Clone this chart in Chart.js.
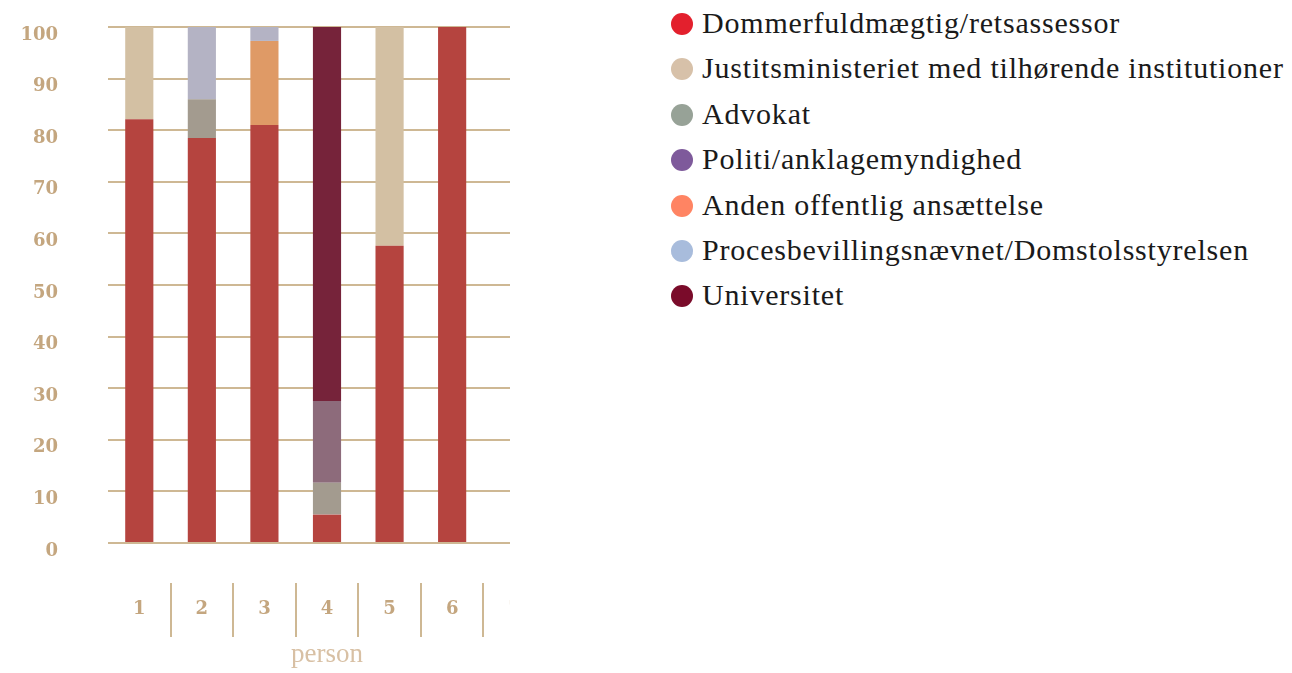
<!DOCTYPE html>
<html>
<head>
<meta charset="utf-8">
<script src="https://cdn.jsdelivr.net/npm/chart.js@4"></script>
<style>
  body { margin: 0; background: #fff; }
  #plot { position: absolute; left: 0; top: 0; width: 510px; height: 673px; overflow: hidden; }
  #legend { position: absolute; left: 671px; top: 0; margin: 0; padding: 0; list-style: none;
            font-family: 'Liberation Serif', serif; font-size: 30px; letter-spacing: 0.8px; color: #1a1a1a; }
  #legend li { height: 45.4px; line-height: 45.4px; white-space: nowrap; }
  #legend span { display: inline-block; width: 22px; height: 22px; border-radius: 50%;
                 margin-right: 9px; vertical-align: -2px; }
</style>
</head>
<body>
<div id="plot"><canvas id="chart" width="546" height="673"></canvas></div>
<ul id="legend"></ul>
<script>
// kategorier (7. kolonne er skåret af i billedet)
const persons = ['1', '2', '3', '4', '5', '6', '7'];

const seriesNames = [
  'Dommerfuldmægtig/retsassessor',
  'Justitsministeriet med tilhørende institutioner',
  'Advokat',
  'Politi/anklagemyndighed',
  'Anden offentlig ansættelse',
  'Procesbevillingsnævnet/Domstolsstyrelsen',
  'Universitet'
];

// procent pr. person
const dommer      = [82.1, 78.5, 81.0, 5.5, 57.6, 100, null];
const justits     = [17.9, 0, 0, 0, 42.4, 0, null];
const advokat     = [0, 7.5, 0, 6.2, 0, 0, null];
const politi      = [0, 0, 0, 15.8, 0, 0, null];
const anden       = [0, 0, 16.3, 0, 0, 0, null];
const proces      = [0, 14.0, 2.7, 0, 0, 0, null];
const universitet = [0, 0, 0, 72.5, 0, 0, null];

const yTicks = [0, 10, 20, 30, 40, 50, 60, 70, 80, 90, 100];

const barColors    = ['#b5443f', '#d3c0a3', '#a39b8f', '#8d6b7b', '#df9a66', '#b4b3c4', '#76233a'];
const legendColors = ['#e3202d', '#d7c1a9', '#97a297', '#7e5a9b', '#ff8463', '#a8bcdc', '#7a0b2a'];

const tan = '#ceb894';
const values = [dommer, justits, advokat, politi, anden, proces, universitet];

const datasets = seriesNames.map((name, i) => ({
  label: name,
  data: values[i],
  backgroundColor: barColors[i],
  categoryPercentage: 0.45,
  barPercentage: 1
}));

// HTML-legend, farverne er lysere end søjlerne
const htmlLegend = {
  id: 'htmlLegend',
  afterUpdate(chart) {
    const ul = document.getElementById('legend');
    ul.innerHTML = '';
    chart.data.datasets.forEach((ds, i) => {
      const li = document.createElement('li');
      const dot = document.createElement('span');
      dot.style.background = legendColors[i];
      li.appendChild(dot);
      li.appendChild(document.createTextNode(ds.label));
      ul.appendChild(li);
    });
  }
};

new Chart(document.getElementById('chart'), {
  type: 'bar',
  data: { labels: persons, datasets: datasets },
  plugins: [htmlLegend],
  options: {
    responsive: false,
    animation: false,
    layout: { padding: { top: 27, left: 0, right: 0, bottom: 0 } },
    plugins: {
      legend: { display: false },
      tooltip: { enabled: false }
    },
    scales: {
      x: {
        stacked: true,
        afterFit: s => { s.height = 130; },
        border: { display: false },
        grid: {
          offset: true,
          drawOnChartArea: false,
          tickLength: 94,
          tickBorderDash: [54, 40],
          tickBorderDashOffset: 54,
          lineWidth: 2,
          color: c => c.index === 0 ? 'rgba(0,0,0,0)' : tan
        },
        ticks: {
          padding: -38,
          color: '#c4a67f',
          font: { family: 'DejaVu Serif', weight: 'bold', size: 18 }
        },
        title: {
          display: true,
          text: 'person',
          color: '#d8c0a4',
          padding: { top: 0, bottom: 2 },
          font: { family: 'Liberation Serif', size: 27 }
        }
      },
      y: {
        stacked: true,
        min: 0,
        max: 100,
        afterFit: s => { s.width = 108; },
        afterBuildTicks: s => { s.ticks = yTicks.map(v => ({ value: v })); },
        border: { display: false },
        grid: { tickLength: 50, tickColor: 'rgba(0,0,0,0)', lineWidth: 2, color: tan },
        ticks: {
          padding: 0,
          labelOffset: 8,
          color: '#c4a67f',
          font: { family: 'DejaVu Serif', weight: 'bold', size: 18 }
        }
      }
    }
  }
});
</script>
</body>
</html>
